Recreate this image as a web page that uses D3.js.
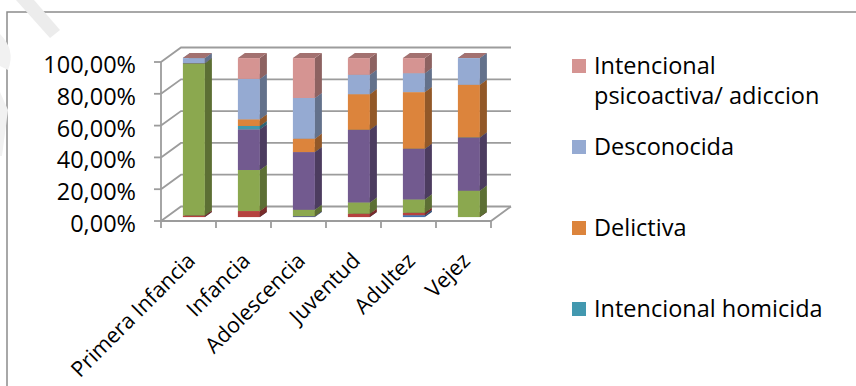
<!DOCTYPE html>
<html>
<head>
<meta charset="utf-8">
<script src="https://cdn.jsdelivr.net/npm/d3@7"></script>
<style>
  html, body { margin: 0; padding: 0; background: #ffffff; }
  svg { display: block; }
  text { font-family: "Open Sans", Lato, sans-serif; fill: #000; }
</style>
</head>
<body>
<svg id="chart" width="856" height="386"></svg>
<script>
// Age groups along the horizontal axis
const categories = ["Primera Infancia", "Infancia", "Adolescencia", "Juventud", "Adultez", "Vejez"];

// Stacked series, bottom to top (share of each age group)
const seriesNames = [
  "Serie 1",
  "Serie 2",
  "Serie 3",
  "Serie 4",
  "Intencional homicida",
  "Delictiva",
  "Desconocida",
  "Intencional psicoactiva/ adiccion"
];
const serie1      = [0.000, 0.000, 0.006, 0.000, 0.012, 0.000];
const serie2      = [0.010, 0.038, 0.000, 0.021, 0.015, 0.000];
const serie3      = [0.958, 0.258, 0.040, 0.071, 0.084, 0.166];
const serie4      = [0.000, 0.256, 0.363, 0.457, 0.319, 0.335];
const homicida    = [0.000, 0.021, 0.000, 0.000, 0.000, 0.000];
const delictiva   = [0.000, 0.042, 0.084, 0.224, 0.356, 0.331];
const desconocida = [0.032, 0.254, 0.256, 0.122, 0.119, 0.168];
const psicoactiva = [0.000, 0.131, 0.251, 0.105, 0.095, 0.000];
const seriesValues = [serie1, serie2, serie3, serie4, homicida, delictiva, desconocida, psicoactiva];

const seriesColors = ["#4472b0", "#b5423f", "#8ba84f", "#725a8f", "#4298af", "#dc843c", "#95aad2", "#d59492"];

// Value axis ticks
const yTicks = [0, 0.2, 0.4, 0.6, 0.8, 1.0];

// Legend entries shown (top to bottom), with their wrapped lines
const legendSeries = [7, 6, 5, 4];
const legendLines = [["Intencional", "psicoactiva/ adiccion"], ["Desconocida"], ["Delictiva"], ["Intencional homicida"]];

const svg = d3.select("#chart");
const FONT = "23.5px";
const CAT_FONT = "21.5px";

// Outer chart frame
svg.append("path")
  .attr("d", "M7,390 L7,12 L860,12")
  .attr("fill", "none").attr("stroke", "#8c8c8c").attr("stroke-width", 1.5);

// Faint background mark in the top-left corner
const mark = svg.append("g").attr("fill", "#ececec");
mark.append("path").attr("d", "M16,0 L34,0 L60,30 L50,38 Z");
mark.append("path").attr("d", "M0,34 Q16,50 8,70 L0,66 Z").attr("fill", "#f1f1f1");
mark.append("path").attr("d", "M0,92 L8,110 L2,156 L0,156 Z").attr("fill", "#f1f1f1");

// Oblique 3-D projection: depth 0 = front plane, depth 1 = back wall
const DX = 20, DY = -14.5;
const x = d3.scaleBand().domain(categories).range([161, 491]);
const y = d3.scaleLinear().domain([0, 1]).range([221, 62]);
const barW = x.bandwidth() * 0.4;
const d0 = 0.27, d1 = 0.62;

const gridColor = "#9c9c9c";
const grid = svg.append("g").attr("stroke", gridColor).attr("stroke-width", 1.8).attr("fill", "none");

// Back-wall gridlines and side-wall lines
yTicks.forEach(v => {
  grid.append("path").attr("d", `M${161},${y(v)} L${161 + DX},${y(v) + DY} L${491 + DX},${y(v) + DY}`);
});
// Floor outline
grid.append("path").attr("d", `M161,${y(0)} L491,${y(0)} L${491 + DX},${y(0) + DY}`);
// Value axis and its ticks
grid.append("line").attr("x1", 161).attr("x2", 161).attr("y1", y(1)).attr("y2", y(0));
yTicks.forEach(v => {
  grid.append("line").attr("x1", 154).attr("x2", 161).attr("y1", y(v)).attr("y2", y(v));
});
// Category ticks
const catEdges = categories.map(c => x(c)).concat([x.range()[1]]);
catEdges.forEach(e => {
  grid.append("line").attr("x1", e).attr("x2", e).attr("y1", y(0)).attr("y2", y(0) + 7);
});

// Value axis labels
const esLocale = d3.formatLocale({ decimal: ",", thousands: ".", grouping: [3], currency: ["", "€"], percent: "%" });
const pct = esLocale.format(".2%");
svg.append("g").selectAll("text").data(yTicks).join("text")
  .attr("x", 136).attr("y", d => y(d) + 11)
  .attr("text-anchor", "end")
  .style("font-size", FONT)
  .text(d => pct(d));

// Stacked 3-D columns
const table = categories.map((c, i) => {
  const row = { cat: c };
  seriesNames.forEach((s, k) => row[s] = seriesValues[k][i]);
  return row;
});
const stacked = d3.stack().keys(seriesNames)(table);

const sx0 = d0 * DX, sy0 = d0 * DY, sx1 = d1 * DX, sy1 = d1 * DY;
const bars = svg.append("g");
categories.forEach((c, i) => {
  const xl = x(c) + (x.bandwidth() - barW) / 2;
  const xr = xl + barW;
  stacked.forEach((layer, k) => {
    const v0 = layer[i][0], v1 = layer[i][1];
    const base = d3.color(seriesColors[k]);
    const yb = y(v0), yt = y(v1);
    const g = bars.append("g");
    // front face
    g.append("rect")
      .attr("x", xl + sx0).attr("y", yt + sy0)
      .attr("width", barW).attr("height", Math.max(0, yb - yt))
      .attr("fill", base.formatHex());
    // right side face
    g.append("path")
      .attr("d", `M${xr + sx0},${yb + sy0} L${xr + sx1},${yb + sy1} L${xr + sx1},${yt + sy1} L${xr + sx0},${yt + sy0} Z`)
      .attr("fill", base.darker(1.15).formatHex());
    // top face
    g.append("path")
      .attr("d", `M${xl + sx0},${yt + sy0} L${xr + sx0},${yt + sy0} L${xr + sx1},${yt + sy1} L${xl + sx1},${yt + sy1} Z`)
      .attr("fill", base.darker(0.75).formatHex());
  });
});

// Category labels, rotated
svg.append("g").selectAll("text").data(categories).join("text")
  .attr("text-anchor", "end")
  .attr("transform", d => `translate(${x(d) + x.bandwidth() / 2 + 8},${y(0) + 41}) rotate(-45)`)
  .style("font-size", CAT_FONT)
  .text(d => d);

// Legend
const legend = svg.append("g");
legendSeries.forEach((k, i) => {
  const top = 59 + 81 * i;
  legend.append("rect")
    .attr("x", 572).attr("y", top).attr("width", 14).attr("height", 14)
    .attr("fill", seriesColors[k]);
  const t = legend.append("text").attr("x", 594).attr("y", top + 15).style("font-size", FONT);
  legendLines[i].forEach((line, j) => {
    t.append("tspan").attr("x", 594).attr("dy", j === 0 ? 0 : 30).text(line);
  });
});
</script>
</body>
</html>
